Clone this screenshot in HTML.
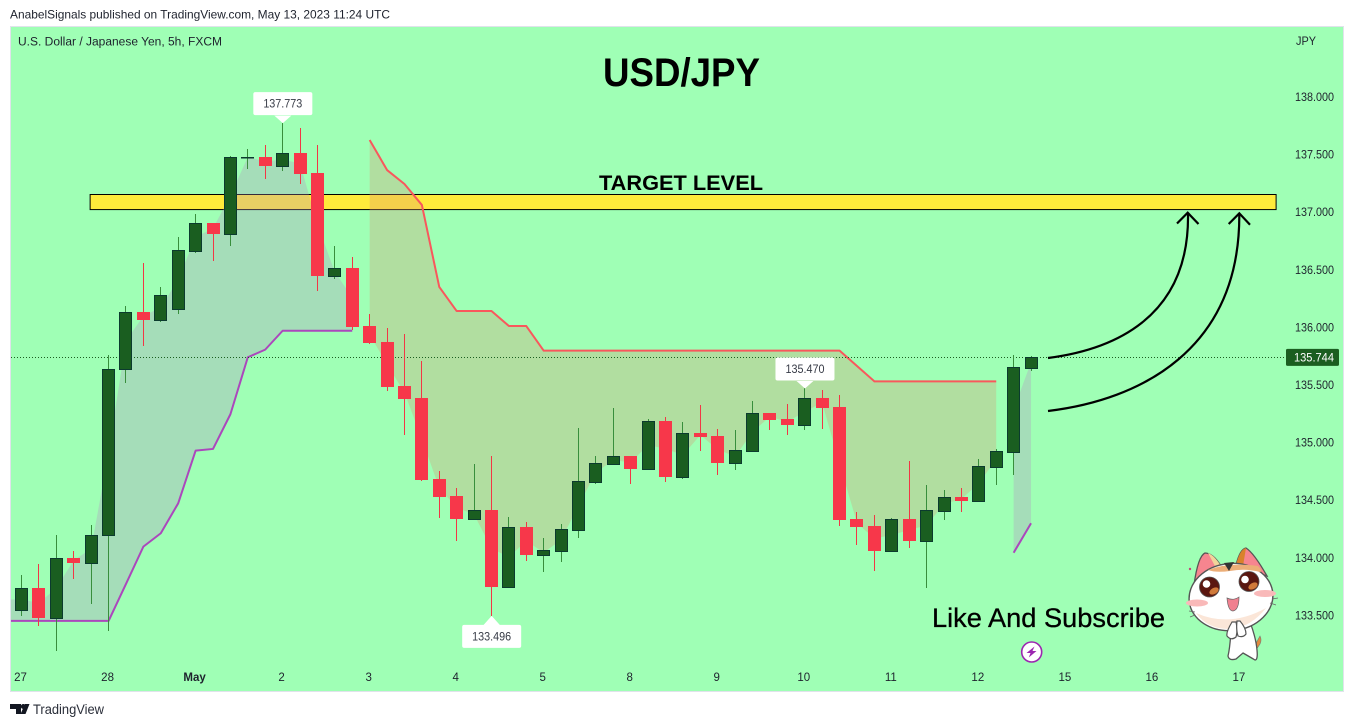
<!DOCTYPE html>
<html lang="en">
<head>
<meta charset="utf-8">
<title>USD/JPY chart</title>
<style>
html,body{margin:0;padding:0;background:#fff;width:1354px;height:727px;overflow:hidden}
svg{display:block}
text{font-family:"Liberation Sans",sans-serif}
</style>
</head>
<body>
<svg id="chart" xmlns="http://www.w3.org/2000/svg" width="1354" height="727" viewBox="0 0 1354 727">
  <defs>
    <clipPath id="plot-clip"><rect x="11" y="27" width="1332" height="664"/></clipPath>
  </defs>
  <rect x="0" y="0" width="1354" height="727" fill="#ffffff"/>
  <text x="10" y="18.5" font-size="12" fill="#1e222d" textLength="380" lengthAdjust="spacingAndGlyphs">AnabelSignals published on TradingView.com, May 13, 2023 11:24 UTC</text>
  <rect x="10.5" y="26.5" width="1333" height="665" fill="#9fffb5" stroke="#e0e3eb" stroke-width="1"/>
  <text x="18" y="45.5" font-size="11.5" fill="#1e222d" textLength="204" lengthAdjust="spacingAndGlyphs">U.S. Dollar / Japanese Yen, 5h, FXCM</text>
  <text x="1296" y="45" font-size="11.5" fill="#1e222d" textLength="20" lengthAdjust="spacingAndGlyphs">JPY</text>
  <g id="target-layer"></g>
  <g id="fill-layer" clip-path="url(#plot-clip)"></g>
  <g id="line-layer" clip-path="url(#plot-clip)"></g>
  <g id="last-line-layer"></g>
  <g id="candle-layer"></g>
  <g id="callout-layer"></g>
  <g id="y-axis"></g>
  <g id="x-axis"></g>

  <text x="603" y="86" font-size="40" font-weight="bold" fill="#000" textLength="157" lengthAdjust="spacingAndGlyphs">USD/JPY</text>
  <text x="599" y="190" font-size="21" font-weight="bold" fill="#000" textLength="164" lengthAdjust="spacingAndGlyphs">TARGET LEVEL</text>
  <text x="932" y="627" font-size="27" fill="#000" stroke="#000" stroke-width="0.3" textLength="233" lengthAdjust="spacingAndGlyphs">Like And Subscribe</text>

  <g fill="none" stroke="#000" stroke-width="2.2">
    <path d="M1048 358 C1110 350 1190 320 1188 213"/>
    <path d="M1177 223.5 L1187.7 212.7 L1198.5 224"/>
  </g>
  <g fill="none" stroke="#000" stroke-width="2.2">
    <path d="M1048 411 C1140 400 1240 350 1239.3 214"/>
    <path d="M1228.7 224 L1239.3 213.3 L1250 224.7"/>
  </g>

  <g>
    <circle cx="1031.7" cy="652" r="10" fill="#fff" stroke="#9c27b0" stroke-width="1.6"/>
    <path d="M1034.5 646.5 L1026.5 653 L1030.5 653 L1028.8 657.5 L1036.5 651 L1032.5 651 Z" fill="#9c27b0"/>
  </g>

  <g>
    <path d="M1254 648 Q1257 641 1260 636 Q1262 640 1260 644 L1256 650 Z" fill="#e08a3c" stroke="#777" stroke-width="0.6"/>
    <path d="M1231 630 Q1230 648 1228 656 Q1229 661 1236 659 L1243 653 Q1250 657 1255 660 Q1258 660 1257 650 Q1256 638 1250 622 Z" fill="#fff" stroke="#555" stroke-width="1.3"/>
    <path d="M1194 585 Q1198 556 1205 553 Q1213 553 1221 566 Z" fill="#f6858f" stroke="#555" stroke-width="1.3"/>
    <path d="M1208 553 Q1214 555 1221 566 L1216 568 Z" fill="#f2d49a"/>
    <path d="M1236 565 Q1240 549 1246 548 Q1254 553 1267 576 Z" fill="#f6858f" stroke="#555" stroke-width="1.3"/>
    <path d="M1236 565 Q1240 549 1246 548 L1243 566 Z" fill="#d9822b"/>
    <ellipse cx="1231" cy="597" rx="42" ry="33.5" transform="rotate(-6 1231 597)" fill="#fff" stroke="#555" stroke-width="1.4"/>
    <path d="M1196 613 Q1230 628 1266 608 Q1252 626 1232 629 Q1208 630 1196 613 Z" fill="#fbe6d8"/>
    <path d="M1208 570 Q1228 562 1258 566 Q1263 571 1260 572 Q1245 568 1230 571 Q1216 573 1208 570 Z" fill="#ecae78"/>
    <path d="M1224 563 L1234 562 L1229 571 Z" fill="#333"/>
    <ellipse cx="1197" cy="603" rx="11" ry="3.5" fill="#f9b9b9"/>
    <ellipse cx="1265" cy="593.5" rx="11" ry="3.5" fill="#f9b9b9"/>
    <circle cx="1209.5" cy="587" r="10" fill="#5a1710" stroke="#555" stroke-width="0.8"/>
    <ellipse cx="1214" cy="591" rx="5" ry="3" transform="rotate(-30 1214 591)" fill="#d07a3a"/>
    <circle cx="1206.5" cy="584" r="3.8" fill="#fff"/>
    <circle cx="1249" cy="581.5" r="10" fill="#5a1710" stroke="#555" stroke-width="0.8"/>
    <ellipse cx="1253" cy="586" rx="5" ry="3" transform="rotate(-30 1253 586)" fill="#d07a3a"/>
    <circle cx="1245" cy="579.5" r="3.8" fill="#fff"/>
    <path d="M1227 598 Q1233 601 1239 597 Q1239 610 1233 611 Q1228 611 1227 598 Z" fill="#f0808f" stroke="#666" stroke-width="0.7"/>
    <path d="M1232 622 Q1226 632 1227 636 Q1231 641 1236 637 Q1238 630 1236 622 Z" fill="#fff" stroke="#555" stroke-width="1.2"/>
    <path d="M1237 621 Q1236 630 1238 636 Q1243 638 1246 634 Q1246 628 1240 621 Z" fill="#fff" stroke="#555" stroke-width="1.2"/>
    <path d="M1189 611 L1195 612 M1190 617 L1195 615 M1272 599 L1278 598 M1270 603 L1276 605" stroke="#666" stroke-width="0.7" fill="none"/>
    <circle cx="1190" cy="569" r="1.2" fill="#c2487a"/>
  </g>

  <g>
    <path d="M10 704 H21 V714 H16 V709 H10 Z" fill="#131722"/>
    <circle cx="23.3" cy="706.5" r="2.5" fill="#131722"/>
    <path d="M25 704 H29.5 L25.5 714 H20.5 Z" fill="#131722"/>
    <text x="33" y="714" font-size="13.5" fill="#2a2e39" textLength="71" lengthAdjust="spacingAndGlyphs">TradingView</text>
  </g>
</svg>

<script>
// ---- chart data (prices) ----
var opens = [133.544,133.735,133.480,133.999,133.958,134.196,135.636,136.134,136.067,136.162,136.666,136.906,136.813,137.477,137.479,137.404,137.514,137.340,136.449,136.516,136.012,135.873,135.491,135.387,134.684,134.537,134.340,134.415,133.749,134.268,134.027,134.062,134.244,134.661,134.817,134.884,134.774,135.188,134.704,135.084,135.057,134.826,134.930,135.257,135.205,135.156,135.387,135.309,134.337,134.276,134.062,134.337,134.149,134.409,134.528,134.496,134.791,134.921,135.650];
var highs = [133.851,133.946,134.198,134.059,134.285,135.758,136.186,136.559,136.351,136.785,136.984,136.906,137.488,137.549,137.583,137.773,137.731,137.583,136.707,136.611,136.116,135.995,135.943,135.708,134.754,134.606,134.814,134.884,134.354,134.311,134.172,134.294,135.127,134.884,135.301,134.884,135.205,135.222,135.179,135.327,135.118,135.110,135.361,135.257,135.335,135.470,135.457,135.413,134.398,134.372,134.346,134.840,134.632,134.589,134.606,134.858,134.945,135.761,135.752];
var lows = [133.495,133.408,133.194,133.816,133.599,133.368,135.520,135.839,136.050,136.116,136.649,136.576,136.709,137.375,137.288,137.358,137.245,136.316,136.420,135.978,135.856,135.448,135.066,134.667,134.346,134.146,134.340,133.496,133.741,133.972,133.877,133.964,134.172,134.641,134.806,134.641,134.771,134.658,134.684,134.927,134.719,134.762,134.921,135.110,135.066,135.110,135.118,134.276,134.111,133.886,134.062,134.085,133.738,134.328,134.398,134.485,134.632,134.719,135.622];
var closes = [133.735,133.480,133.996,133.958,134.196,135.636,136.131,136.064,136.279,136.669,136.904,136.811,137.477,137.480,137.401,137.511,137.332,136.446,136.513,136.004,135.865,135.483,135.379,134.676,134.528,134.337,134.413,133.747,134.265,134.025,134.065,134.248,134.664,134.820,134.881,134.771,135.185,134.702,135.081,135.049,134.823,134.933,135.255,135.196,135.153,135.385,135.301,134.328,134.268,134.059,134.334,134.146,134.413,134.525,134.493,134.794,134.925,135.654,135.744];
var lowerBand = [133.452,133.452,133.452,133.452,133.452,133.452,133.773,134.097,134.213,134.473,134.930,134.945,135.246,135.741,135.807,135.971,135.971,135.971,135.971,135.971,null,null,null,null,null,null,null,null,null,null,null,null,null,null,null,null,null,null,null,null,null,null,null,null,null,null,null,null,null,null,null,null,null,null,null,null,null,134.044,134.300];
var upperBand = [null,null,null,null,null,null,null,null,null,null,null,null,null,null,null,null,null,null,null,null,137.627,137.366,137.245,137.063,136.351,136.142,136.142,136.142,136.012,136.012,135.798,135.798,135.798,135.798,135.798,135.798,135.798,135.798,135.798,135.798,135.798,135.798,135.798,135.798,135.798,135.798,135.798,135.798,135.665,135.532,135.532,135.532,135.532,135.532,135.532,135.532,135.532,null,null];
var priceTicks = ["138.000","137.500","137.000","136.500","136.000","135.500","135.000","134.500","134.000","133.500"];
var dateLabels = ["27","28","May","2","3","4","5","8","9","10","11","12","15","16","17"];
var targetZone = [137.023,137.154];
var lastPrice = 135.744;
var calloutBars = [15,45,27];

// ---- axis functions ----
function xAt(i){ return 21.55 + 17.405 * i; }
function yAt(p){ return 97 + (138 - p) * 115.2; }

var NS = 'http://www.w3.org/2000/svg';
function mk(tag, parent, attrs){
  var el = document.createElementNS(NS, tag);
  for (var k in attrs) el.setAttribute(k, attrs[k]);
  parent.appendChild(el);
  return el;
}
var GREEN_BODY = '#1a5e20', GREEN_EDGE = '#0b3b2e', GREEN_WICK = '#388e3c', RED_BODY = '#f7374a', RED_WICK = '#f23645';

// target zone
var targetLayer = document.getElementById('target-layer');
var zone = mk('rect', targetLayer, {x: xAt(3.94), y: Math.round(yAt(targetZone[1])) + 0.5, width: xAt(72.08) - xAt(3.94), height: yAt(targetZone[0]) - yAt(targetZone[1]), fill: '#ffeb3b', stroke: '#000', 'stroke-width': 1});



// band fills + lines
function runs(arr){
  var out = [], cur = null;
  for (var i = 0; i < arr.length; i++){
    if (arr[i] !== null){ if (!cur){ cur = []; out.push(cur); } cur.push(i); }
    else cur = null;
  }
  return out;
}
function drawBand(values, fillCol, lineCol){
  runs(values).forEach(function(run){
    var top = '', line = '', back = '';
    var lead = run[0] === 0;
    if (lead){
      line += 'M' + xAt(-1) + ' ' + yAt(values[0]);
      top += 'M' + xAt(-1) + ' ' + yAt((opens[0] + closes[0]) / 2);
    }
    run.forEach(function(i, n){
      var cmd = (n === 0 && !lead) ? 'M' : 'L';
      line += cmd + xAt(i) + ' ' + yAt(values[i]);
      top += cmd + xAt(i) + ' ' + yAt((opens[i] + closes[i]) / 2);
    });
    for (var j = run.length - 1; j >= 0; j--){
      back += 'L' + xAt(run[j]) + ' ' + yAt(values[run[j]]);
    }
    if (lead){
      back += 'L' + xAt(-1) + ' ' + yAt(values[0]);
    }
    var area = mk('path', document.getElementById('fill-layer'), {d: top + back + 'Z', fill: fillCol});
    
    
    var stroke = mk('path', document.getElementById('line-layer'), {d: line, fill: 'none', stroke: lineCol, 'stroke-width': 2, 'stroke-linejoin': 'round'});
    
    
  });
}
drawBand(lowerBand, 'rgba(179,142,194,0.3)', '#ab47bc');
drawBand(upperBand, 'rgba(219,145,111,0.3)', '#f9575c');

// last price line
var lastLine = mk('line', document.getElementById('last-line-layer'), {x1: 11, x2: 1285, y1: Math.round(yAt(lastPrice)) + 0.5, y2: Math.round(yAt(lastPrice)) + 0.5, stroke: '#1b5e20', 'stroke-width': 1, 'stroke-dasharray': '1 2'});



// candles
var candleLayer = document.getElementById('candle-layer');
opens.forEach(function(o, i){
  var c = closes[i], up = c >= o;
  var cx = Math.floor(xAt(i));
  var top = Math.round(yAt(Math.max(o, c))), bot = Math.round(yAt(Math.min(o, c)));
  var g = mk('g', candleLayer, {});
  
  
  var hy = Math.round(yAt(highs[i])), ly = Math.round(yAt(lows[i]));
  var wick = mk('rect', g, {x: cx, y: hy, width: 1, height: Math.max(ly - hy, 1), fill: up ? GREEN_WICK : RED_WICK});
  
  
  var body;
  if (up){
    body = mk('rect', g, {x: cx - 5.5, y: top + 0.5, width: 12, height: Math.max(bot - top, 0.5), fill: GREEN_BODY, stroke: GREEN_EDGE, 'stroke-width': 1});
  } else {
    body = mk('rect', g, {x: cx - 6, y: top, width: 13, height: Math.max(bot - top, 1), fill: RED_BODY});
  }
  
  
});

// callouts for extremes
var calloutLayer = document.getElementById('callout-layer');
calloutBars.forEach(function(i){
  var isLow = lows[i] < 133.5;
  var price = isLow ? lows[i] : highs[i];
  var px = xAt(i) + 0.2, py = yAt(price);
  var g = mk('g', calloutLayer, {});
  
  
  var boxY = isLow ? py + 9 : py - 31;
  var box = mk('rect', g, {x: px - 29.5, y: boxY, width: 59, height: 23, rx: 2, fill: '#fff'});
  
  
  var tipBase = isLow ? py + 9.5 : py - 7.5;
  var tip = mk('path', g, {d: 'M' + (px - 8.5) + ' ' + tipBase + ' L' + px + ' ' + py + ' L' + (px + 8.5) + ' ' + tipBase + ' Z', fill: '#fff'});
  
  
  var t = mk('text', g, {x: px, y: boxY + 15.5, 'font-size': 11.5, fill: '#363a45', 'text-anchor': 'middle', textLength: 39, lengthAdjust: 'spacingAndGlyphs'});
  
  
  t.textContent = price.toFixed(3);
});

// price axis
var yAxis = document.getElementById('y-axis');
priceTicks.forEach(function(label){
  var t = mk('text', yAxis, {x: 1295, y: yAt(parseFloat(label)) + 4, 'font-size': 11.5, fill: '#1e222d', textLength: 39, lengthAdjust: 'spacingAndGlyphs'});
  
  
  t.textContent = label;
});
var tag = mk('rect', yAxis, {x: 1286, y: yAt(lastPrice) - 8, width: 53, height: 17, rx: 1.5, fill: '#1b5e20'});


var tagText = mk('text', yAxis, {x: 1294, y: yAt(lastPrice) + 4.5, 'font-size': 11.5, fill: '#fff', textLength: 40, lengthAdjust: 'spacingAndGlyphs'});


tagText.textContent = lastPrice.toFixed(3);

// time axis: one label every 5 bars
var xAxis = document.getElementById('x-axis');
dateLabels.forEach(function(label, n){
  var t = mk('text', xAxis, {x: xAt(n * 5) - 1, y: 681, 'font-size': 11.5, fill: '#1e222d', 'text-anchor': 'middle', 'font-weight': label === 'May' ? 'bold' : 'normal'});
  
  
  t.textContent = label;
});
</script>
</body>
</html>
